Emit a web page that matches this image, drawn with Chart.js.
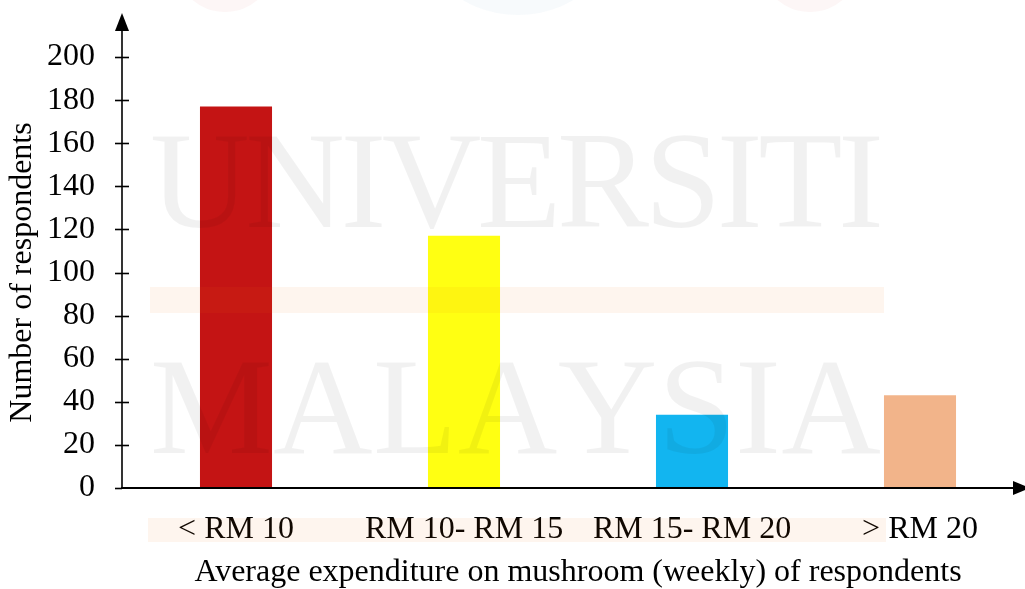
<!DOCTYPE html>
<html><head><meta charset="utf-8">
<script src="https://cdn.jsdelivr.net/npm/chart.js@4/dist/chart.umd.min.js"></script>
<style>
html,body{margin:0;padding:0;overflow:hidden;background:#fff;width:1025px;height:589px}
#wrap{position:relative;width:1040px;height:589px}
</style></head>
<body><div id="wrap"><canvas id="c" width="1040" height="589"></canvas></div>
<script>
// ---- data ----
const categories = ['< RM 10', 'RM 10- RM 15', 'RM 15- RM 20', '> RM 20'];
const respondents = [177, 117, 34, 43];
const yTickValues = [0, 20, 40, 60, 80, 100, 120, 140, 160, 180, 200];
const xTitle = 'Average expenditure on mushroom (weekly) of respondents';
const yTitle = 'Number of respondents';
const watermarkWords = ['UNIVERSITI', 'MALAYSIA'];

// ---- styles ----
const barColors = ['#C41414', '#FFFF12', '#12B5F0', '#F2B48A'];
const SERIF = '"Liberation Serif", "Times New Roman", serif';

const watermarkPlugin = {
  id: 'watermark',
  afterDatasetsDraw(chart) {
    const ctx = chart.ctx;
    ctx.save();
    // faint logos at the top
    ctx.fillStyle = 'rgba(225,70,70,0.05)';
    ctx.beginPath(); ctx.arc(225, -38, 50, 0, Math.PI * 2); ctx.fill();
    ctx.beginPath(); ctx.arc(810, -38, 50, 0, Math.PI * 2); ctx.fill();
    ctx.fillStyle = 'rgba(90,150,200,0.05)';
    ctx.beginPath(); ctx.arc(518, -95, 110, 0, Math.PI * 2); ctx.fill();
    // orange bands
    ctx.fillStyle = 'rgba(240,120,20,0.07)';
    ctx.fillRect(150, 287, 734, 26);
    ctx.fillRect(148, 518, 738, 24);
    // big letters
    ctx.fillStyle = 'rgba(0,0,0,0.055)';
    ctx.font = '138px ' + SERIF;
    ctx.textBaseline = 'alphabetic';
    ctx.textAlign = 'left';
    const spec = [[watermarkWords[0], 150, 884, 227], [watermarkWords[1], 150, 881, 453]];
    spec.forEach(([word, x0, x1, base]) => {
      const chars = word.split('');
      const ws = chars.map(c => ctx.measureText(c).width);
      const total = ws.reduce((a, b) => a + b, 0);
      const gap = (x1 - x0 - total) / (chars.length - 1);
      let x = x0;
      chars.forEach((c, i) => { ctx.fillText(c, x, base); x += ws[i] + gap; });
    });
    ctx.restore();
  }
};

const axesPlugin = {
  id: 'axesDraw',
  afterDraw(chart) {
    const ctx = chart.ctx;
    const ys = chart.scales.y;
    const a = chart.chartArea;
    const x0 = a.left, y0 = ys.getPixelForValue(0);
    ctx.save();
    ctx.strokeStyle = '#000';
    ctx.fillStyle = '#000';
    // y axis line
    ctx.lineWidth = 1.6;
    ctx.beginPath(); ctx.moveTo(x0, y0 + 1); ctx.lineTo(x0, 28); ctx.stroke();
    ctx.beginPath(); ctx.moveTo(x0, 13); ctx.lineTo(x0 - 7, 31); ctx.lineTo(x0 + 7, 31); ctx.closePath(); ctx.fill();
    // y ticks
    yTickValues.forEach(v => {
      const py = Math.round(ys.getPixelForValue(v)) + 0.5;
      ctx.beginPath(); ctx.moveTo(x0 - 7, py); ctx.lineTo(v === 0 ? x0 : x0 + 7, py); ctx.stroke();
    });
    // x axis line
    ctx.lineWidth = 2;
    ctx.beginPath(); ctx.moveTo(x0 - 1, y0); ctx.lineTo(1016, y0); ctx.stroke();
    ctx.beginPath(); ctx.moveTo(1030, y0); ctx.lineTo(1013, y0 - 7); ctx.lineTo(1013, y0 + 7); ctx.closePath(); ctx.fill();
    ctx.restore();
  }
};

new Chart(document.getElementById('c'), {
  type: 'bar',
  data: {
    labels: categories,
    datasets: [{
      data: respondents,
      backgroundColor: barColors,
      borderWidth: 0,
      categoryPercentage: 1,
      barPercentage: 0.316
    }]
  },
  options: {
    responsive: false,
    animation: false,
    devicePixelRatio: 1,
    layout: { padding: { top: 57, left: 0, right: 6, bottom: 0 } },
    plugins: { legend: { display: false }, tooltip: { enabled: false } },
    scales: {
      x: {
        grid: { display: false, drawTicks: false },
        border: { display: false },
        ticks: { color: '#000', font: { family: SERIF, size: 32 }, padding: 22, maxRotation: 0, autoSkip: false },
        title: { display: true, text: xTitle, color: '#000', font: { family: SERIF, size: 32, lineHeight: 1 }, padding: { top: 0, bottom: 0 } },
        afterFit(s) { s.height = 101; }
      },
      y: {
        min: 0, max: 200,
        grid: { display: false, drawTicks: false },
        border: { display: false },
        ticks: { stepSize: 20, color: '#000', font: { family: SERIF, size: 32 }, padding: 27 },
        title: { display: true, text: yTitle, color: '#000', font: { family: SERIF, size: 32 }, padding: { top: 3, bottom: 0 } },
        afterFit(s) { s.width = 122; }
      }
    }
  },
  plugins: [watermarkPlugin, axesPlugin]
});
</script>
</body></html>
